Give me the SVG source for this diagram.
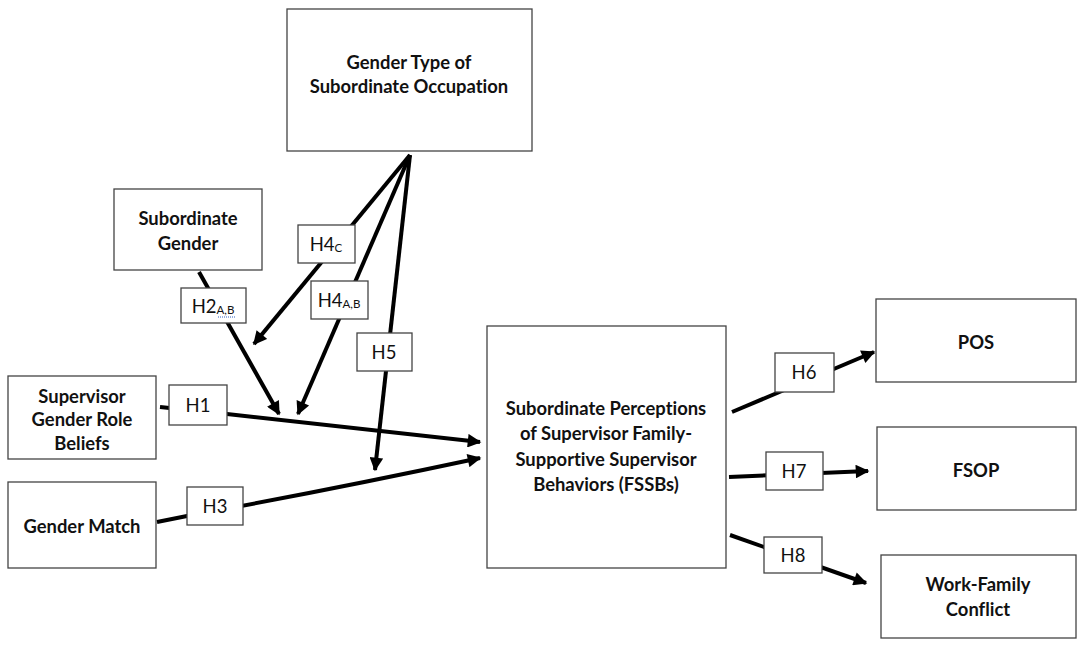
<svg xmlns="http://www.w3.org/2000/svg" width="1078" height="645" viewBox="0 0 1078 645">
<style>
.box{fill:#fff;stroke:#444;stroke-width:1.3}
.lbl{fill:#fff;stroke:#444;stroke-width:1.3}
.t{font-family:Lato,"Open Sans",sans-serif;font-weight:bold;font-size:18.4px;fill:#111;text-anchor:middle;dominant-baseline:central;font-variant-ligatures:none}
.h{font-family:Lato,"Open Sans",sans-serif;font-size:18.5px;fill:#111;text-anchor:middle;dominant-baseline:central}
.sub{font-size:11.5px}
.c{stroke:#000;stroke-width:4;fill:none}
</style>
<defs>
<marker id="ah" viewBox="0 0 10 10" refX="9" refY="5" markerWidth="4" markerHeight="3.4" orient="auto" markerUnits="strokeWidth">
<path d="M0,0 L10,5 L0,10 Z" fill="#000"/>
</marker>
</defs>
<rect width="1078" height="645" fill="#fff"/>
<g id="connectors">
<line class="c" x1="410" y1="155" x2="254" y2="344" marker-end="url(#ah)"/>
<line class="c" x1="410" y1="155" x2="298" y2="414" marker-end="url(#ah)"/>
<line class="c" x1="410" y1="155" x2="375" y2="470" marker-end="url(#ah)"/>
<line class="c" x1="199" y1="272" x2="279" y2="414" marker-end="url(#ah)"/>
<path class="c" d="M160,407 L227,414 L480,442" marker-end="url(#ah)"/>
<path class="c" d="M157,522 L187,516 Q330,490 480,458" marker-end="url(#ah)"/>
<line class="c" x1="732" y1="412" x2="874" y2="352" marker-end="url(#ah)"/>
<line class="c" x1="729" y1="477" x2="868" y2="471" marker-end="url(#ah)"/>
<line class="c" x1="730" y1="535" x2="866" y2="583" marker-end="url(#ah)"/>
</g>
<g id="n-gender-type">
<rect class="box" x="287" y="9" width="245" height="142"/>
<text class="t" x="409" y="62">Gender Type of</text>
<text class="t" x="409" y="86">Subordinate Occupation</text>
</g>
<g id="n-sub-gender">
<rect class="box" x="114" y="189" width="148" height="81"/>
<text class="t" x="188" y="218">Subordinate</text>
<text class="t" x="188" y="243">Gender</text>
</g>
<g id="n-sup-beliefs">
<rect class="box" x="8" y="376" width="148" height="83"/>
<text class="t" x="82" y="396">Supervisor</text>
<text class="t" x="82" y="419">Gender Role</text>
<text class="t" x="82" y="443">Beliefs</text>
</g>
<g id="n-gender-match">
<rect class="box" x="8" y="482" width="148" height="86"/>
<text class="t" x="82" y="526">Gender Match</text>
</g>
<g id="n-fssb">
<rect class="box" x="487" y="326" width="239" height="242"/>
<text class="t" x="606" y="408">Subordinate Perceptions</text>
<text class="t" x="606" y="433">of Supervisor Family-</text>
<text class="t" x="606" y="459">Supportive Supervisor</text>
<text class="t" x="606" y="484">Behaviors (FSSBs)</text>
</g>
<g id="n-pos">
<rect class="box" x="876" y="299" width="200" height="83"/>
<text class="t" x="976" y="342">POS</text>
</g>
<g id="n-fsop">
<rect class="box" x="877" y="427" width="199" height="83"/>
<text class="t" x="976" y="470">FSOP</text>
</g>
<g id="n-wfc">
<rect class="box" x="881" y="555" width="195" height="83"/>
<text class="t" x="978" y="584">Work-Family</text>
<text class="t" x="978" y="609">Conflict</text>
</g>
<g id="l-h4c">
<rect class="lbl" x="298" y="225" width="57" height="38"/>
<text class="h" x="326" y="244">H4<tspan class="sub" dy="3">C</tspan></text>
</g>
<g id="l-h4ab">
<rect class="lbl" x="311" y="281" width="57" height="38"/>
<text class="h" x="339" y="300">H4<tspan class="sub" dy="3">A,B</tspan></text>
</g>
<g id="l-h2ab">
<rect class="lbl" x="181" y="288" width="65" height="35"/>
<text class="h" x="213" y="306">H2<tspan class="sub" dy="3">A,B</tspan></text>
<line x1="218" y1="317" x2="235" y2="317" stroke="#3060c0" stroke-width="1" stroke-dasharray="1,1"/>
</g>
<g id="l-h5">
<rect class="lbl" x="357" y="333" width="55" height="38"/>
<text class="h" x="384" y="352">H5</text>
</g>
<g id="l-h1">
<rect class="lbl" x="169" y="385" width="58" height="40"/>
<text class="h" x="198" y="405">H1</text>
</g>
<g id="l-h3">
<rect class="lbl" x="187" y="487" width="56" height="38"/>
<text class="h" x="215" y="506">H3</text>
</g>
<g id="l-h6">
<rect class="lbl" x="775" y="353" width="59" height="39"/>
<text class="h" x="804" y="372">H6</text>
</g>
<g id="l-h7">
<rect class="lbl" x="766" y="452" width="57" height="38"/>
<text class="h" x="794" y="471">H7</text>
</g>
<g id="l-h8">
<rect class="lbl" x="764" y="537" width="58" height="36"/>
<text class="h" x="793" y="555">H8</text>
</g>
</svg>
